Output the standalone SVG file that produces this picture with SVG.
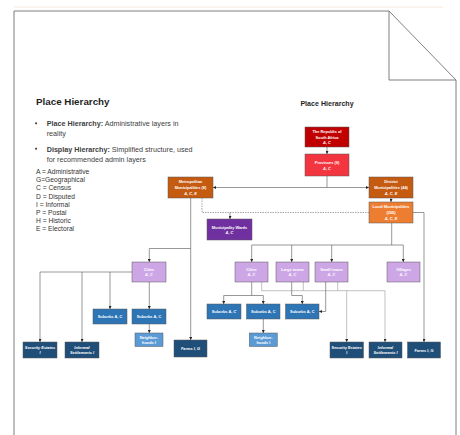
<svg xmlns="http://www.w3.org/2000/svg" width="460" height="435" viewBox="0 0 460 435">
<defs>
<marker id="ah" viewBox="0 0 6 6" refX="6" refY="3" markerWidth="3" markerHeight="3" markerUnits="userSpaceOnUse" orient="auto">
<path d="M0,0 L6,3 L0,6 Z" fill="#262626"/>
</marker>
</defs>
<style>
.page{fill:none;stroke:#7f7f7f;stroke-width:1}
.h1{font-family:"Liberation Sans",Arial,sans-serif;font-weight:bold;fill:#1f1f1f}
.body{font-family:"Liberation Sans",Arial,sans-serif;font-size:7.2px;fill:#404040}
.leg{font-family:"Liberation Sans",Arial,sans-serif;font-size:6.7px;fill:#333333}
.nt{font-family:"Liberation Sans",Arial,sans-serif;font-size:3.9px;font-weight:bold;fill:#ffffff;text-anchor:middle}
.it{font-style:italic}
.box{stroke:#595959;stroke-width:0.5}
.c{fill:none;stroke:#6b6b6b;stroke-width:0.7}
.a{marker-end:url(#ah)}
.g{fill:none;stroke:#a6a6a6;stroke-width:0.7}
.d{fill:none;stroke:#6b6b6b;stroke-width:0.6;stroke-dasharray:1.5,1}
</style>
<rect width="460" height="435" fill="#ffffff"/>
<g id="page">
<line x1="14" y1="7" x2="443" y2="7" stroke="#f6e3d6" stroke-width="0.8"/>
<path class="page" d="M14,435 V11 H389 L456,80 V435"/>
<path class="page" d="M389,11 V80 H456"/>
</g>
<g id="intro">
<text class="h1" x="36" y="105" font-size="9.8">Place Hierarchy</text>
<rect x="35.2" y="122.4" width="1.8" height="1.8" fill="#404040"/>
<text class="body" x="46.7" y="126"><tspan font-weight="bold">Place Hierarchy:</tspan> Administrative layers in</text>
<text class="body" x="46.7" y="135.5">reality</text>
<rect x="35.2" y="147.8" width="1.8" height="1.8" fill="#404040"/>
<text class="body" x="46.7" y="151.5"><tspan font-weight="bold">Display Hierarchy:</tspan> Simplified structure, used</text>
<text class="body" x="46.7" y="161.5">for recommended admin layers</text>
</g>
<g id="legend">
<text class="leg" x="36" y="174">A = Administrative</text>
<text class="leg" x="36" y="182.2">G=Geographical</text>
<text class="leg" x="36" y="190.4">C = Census</text>
<text class="leg" x="36" y="198.6">D = Disputed</text>
<text class="leg" x="36" y="206.8">I = Informal</text>
<text class="leg" x="36" y="215">P = Postal</text>
<text class="leg" x="36" y="223.2">H = Historic</text>
<text class="leg" x="36" y="231.4">E = Electoral</text>
</g>
<text class="h1" x="327" y="106" font-size="7.1" text-anchor="middle">Place Hierarchy</text>
<g id="connectors">
<path class="c a" d="M327,147 V154"/>
<path class="c" d="M327,176 V187.5"/>
<path class="c a" d="M327,187.5 H213"/>
<path class="c a" d="M327,187.5 H369"/>
<path class="c a" d="M391,198 V202"/>
<path class="d" d="M202,198 V212.5 H369"/>
<path class="c a" d="M230,212.5 V219"/>
<path class="c a" d="M190.7,198 V340"/>
<path class="c a" d="M190.7,248.5 H149.3 V262"/>
<path class="c a" d="M132,272 H40 V342"/>
<path class="c a" d="M82,272 V342"/>
<path class="c a" d="M110,272 V309"/>
<path class="c a" d="M149.3,282 V309"/>
<path class="c a" d="M149.3,324 V333"/>
<path class="c" d="M391.7,223 V245"/>
<path class="c" d="M251.7,245 H403.3"/>
<path class="c a" d="M251.7,245 V262"/>
<path class="c a" d="M291.7,245 V262"/>
<path class="c a" d="M331.7,245 V262"/>
<path class="c a" d="M403.3,245 V262"/>
<path class="c a" d="M413,212.5 H424 V342"/>
<path class="g" d="M261.7,282 V290.7 H385"/>
<path class="g" d="M303.3,282 V290.7"/>
<path class="g" d="M337.7,282 V290.7"/>
<path class="g a" d="M346.7,290.7 V342"/>
<path class="g a" d="M385,290.7 V342"/>
<path class="c" d="M251.7,282 V295.5"/>
<path class="c" d="M223.7,295.5 H263.3"/>
<path class="c a" d="M223.7,295.5 V304"/>
<path class="c a" d="M263.3,295.5 V304"/>
<path class="c a" d="M263.3,319 V333"/>
<path class="c a" d="M291.7,282 V295.5 H302.3 V304"/>
<path class="c a" d="M325.7,282 V311.5 H319"/>
</g>
<g id="republic">
<rect class="box" x="305" y="127" width="44" height="20" fill="#c00000"/>
<text class="nt" x="327" y="133">The Republic of</text>
<text class="nt" x="327" y="138.5">South Africa</text>
<text class="nt it" x="327" y="144">A, C</text>
</g>
<g id="provinces">
<rect class="box" x="305" y="154" width="44" height="22" fill="#f2353f"/>
<text class="nt" x="327" y="164">Provinces (9)</text>
<text class="nt it" x="327" y="169.5">A, C</text>
</g>
<g id="district">
<rect class="box" x="369" y="177" width="44" height="21" fill="#c55a11"/>
<text class="nt" x="391" y="182.5">District</text>
<text class="nt" x="391" y="188.5">Municipalities (44)</text>
<text class="nt it" x="391" y="194.5">A, C, E</text>
</g>
<g id="local">
<rect class="box" x="369" y="202" width="44" height="21" fill="#ed7d31"/>
<text class="nt" x="391" y="207.5">Local Municipalities</text>
<text class="nt" x="391" y="213.5">(205)</text>
<text class="nt it" x="391" y="219.5">A, C, E</text>
</g>
<g id="metro">
<rect class="box" x="168" y="177" width="45" height="21" fill="#c55a11"/>
<text class="nt" x="190.5" y="182.5">Metropolitan</text>
<text class="nt" x="190.5" y="188.5">Municipalities (8)</text>
<text class="nt it" x="190.5" y="194.5">A, C, E</text>
</g>
<g id="wards">
<rect class="box" x="207" y="219" width="45" height="21" fill="#7030a0"/>
<text class="nt" x="229.5" y="228.5">Municipality Wards</text>
<text class="nt it" x="229.5" y="234">A, C</text>
</g>
<g id="cities-metro">
<rect class="box" x="132" y="262" width="34" height="20" fill="#cda6e6"/>
<text class="nt" x="149" y="270.5">Cities</text>
<text class="nt it" x="149" y="276">A, C</text>
</g>
<g id="suburbs-m1">
<rect class="box" x="93" y="309" width="34" height="15" fill="#2e75b6"/>
<text class="nt" x="110" y="318">Suburbs A, C</text>
</g>
<g id="suburbs-m2">
<rect class="box" x="132" y="309" width="34" height="15" fill="#2e75b6"/>
<text class="nt" x="149" y="318">Suburbs A, C</text>
</g>
<g id="neigh-m">
<rect class="box" x="135" y="333" width="28" height="13.5" fill="#5b9bd5"/>
<text class="nt" x="149" y="338.8">Neighbor-</text>
<text class="nt" x="149" y="343.6">hoods I</text>
</g>
<g id="security-m">
<rect class="box" x="23" y="342" width="34" height="16" fill="#1f4e79"/>
<text class="nt it" x="40" y="348.5">Security Estates</text>
<text class="nt it" x="40" y="354">I</text>
</g>
<g id="informal-m">
<rect class="box" x="65" y="342" width="34" height="16" fill="#1f4e79"/>
<text class="nt it" x="82" y="348.5">Informal</text>
<text class="nt it" x="82" y="354">Settlements I</text>
</g>
<g id="farms-m">
<rect class="box" x="174" y="340" width="33" height="17" fill="#1f4e79"/>
<text class="nt it" x="190.5" y="349.8">Farms I, G</text>
</g>
<g id="cities-local">
<rect class="box" x="235" y="262" width="33" height="20" fill="#cda6e6"/>
<text class="nt" x="251.5" y="270.5">Cities</text>
<text class="nt it" x="251.5" y="276">A, C</text>
</g>
<g id="large-towns">
<rect class="box" x="276" y="262" width="33" height="20" fill="#cda6e6"/>
<text class="nt" x="292.5" y="270.5">Large towns</text>
<text class="nt it" x="292.5" y="276">A, C</text>
</g>
<g id="small-towns">
<rect class="box" x="315" y="262" width="33" height="20" fill="#cda6e6"/>
<text class="nt" x="331.5" y="270.5">Small towns</text>
<text class="nt it" x="331.5" y="276">A, C</text>
</g>
<g id="villages">
<rect class="box" x="387" y="262" width="33" height="20" fill="#cda6e6"/>
<text class="nt" x="403.5" y="270.5">Villages</text>
<text class="nt it" x="403.5" y="276">A, C</text>
</g>
<g id="suburbs-l1">
<rect class="box" x="207" y="304" width="34" height="15" fill="#2e75b6"/>
<text class="nt" x="224" y="313">Suburbs A, <tspan class="it">C</tspan></text>
</g>
<g id="suburbs-l2">
<rect class="box" x="246.5" y="304" width="33.5" height="15" fill="#2e75b6"/>
<text class="nt" x="263.3" y="313">Suburbs A, C</text>
</g>
<g id="suburbs-l3">
<rect class="box" x="285.5" y="304" width="33.5" height="15" fill="#2e75b6"/>
<text class="nt" x="302.3" y="313">Suburbs A, C</text>
</g>
<g id="neigh-l">
<rect class="box" x="249.3" y="333" width="28" height="13.5" fill="#5b9bd5"/>
<text class="nt" x="263.3" y="338.8">Neighbor-</text>
<text class="nt" x="263.3" y="343.6">hoods I</text>
</g>
<g id="security-l">
<rect class="box" x="330" y="342" width="33.5" height="16" fill="#1f4e79"/>
<text class="nt" x="346.7" y="348.5">Security Estates</text>
<text class="nt" x="346.7" y="354">I</text>
</g>
<g id="informal-l">
<rect class="box" x="369" y="342" width="33" height="16" fill="#1f4e79"/>
<text class="nt it" x="385.5" y="348.5">Informal</text>
<text class="nt it" x="385.5" y="354">Settlements I</text>
</g>
<g id="farms-l">
<rect class="box" x="407.5" y="342" width="33" height="16" fill="#1f4e79"/>
<text class="nt" x="424" y="351.5">Farms I, G</text>
</g>
</svg>
